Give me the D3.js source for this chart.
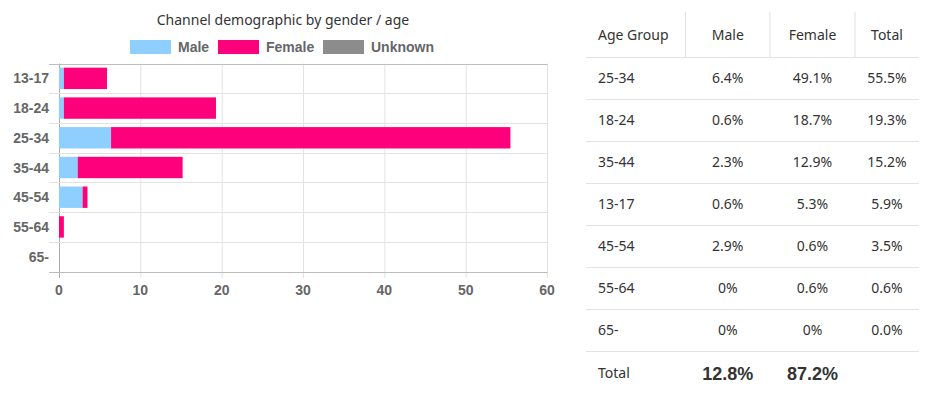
<!DOCTYPE html>
<html>
<head>
<meta charset="utf-8">
<script src="https://cdn.jsdelivr.net/npm/d3@7"></script>
<style>
  body { margin: 0; background: #fff; }
  svg { display: block; }
</style>
</head>
<body>
<svg width="930" height="398"></svg>
<script>
// chart data
var ageGroups = ["13-17", "18-24", "25-34", "35-44", "45-54", "55-64", "65-"];
var seriesNames = ["Male", "Female", "Unknown"];
var male = [0.6, 0.6, 6.4, 2.3, 2.9, 0, 0];
var female = [5.3, 18.7, 49.1, 12.9, 0.6, 0.6, 0];
var unknown = [0, 0, 0, 0, 0, 0, 0];
var xTicks = [0, 10, 20, 30, 40, 50, 60];

// table data (sorted by total)
var tableHeader = ["Age Group", "Male", "Female", "Total"];
var tableAges = ["25-34", "18-24", "35-44", "13-17", "45-54", "55-64", "65-"];
var tableMale = ["6.4%", "0.6%", "2.3%", "0.6%", "2.9%", "0%", "0%"];
var tableFemale = ["49.1%", "18.7%", "12.9%", "5.3%", "0.6%", "0.6%", "0%"];
var tableTotal = ["55.5%", "19.3%", "15.2%", "5.9%", "3.5%", "0.6%", "0.0%"];
var totalRow = ["Total", "12.8%", "87.2%", ""];

var colors = ["#8ecfff", "#ff007c", "#8c8c8c"];
var roundFont = "'Noto Sans', sans-serif";
var boldFont = "'Liberation Sans', Arial, sans-serif";

var svg = d3.select("svg");

// ---- bar chart ----
var x = d3.scaleLinear().domain([0, 60]).range([59, 547]);
var y = d3.scaleBand().domain(ageGroups).range([63.5, 271.5])
    .paddingInner(0.28).paddingOuter(0.14);
var step = y.step();

var rows = ageGroups.map(function (g, i) {
    return {age: g, Male: male[i], Female: female[i], Unknown: unknown[i]};
});
var stacked = d3.stack().keys(seriesNames)(rows);

// title
svg.append("text")
    .attr("x", 283).attr("y", 25)
    .attr("text-anchor", "middle")
    .style("font-family", roundFont).style("font-size", "14px")
    .style("fill", "#333")
    .text("Channel demographic by gender / age");

// legend
var legendX = [130, 218, 323];
var legend = svg.selectAll(".legend").data(seriesNames).enter().append("g")
    .attr("transform", function (d, i) { return "translate(" + legendX[i] + ",40)"; });
legend.append("rect")
    .attr("width", 41).attr("height", 14)
    .attr("fill", function (d, i) { return colors[i]; });
legend.append("text")
    .attr("x", 48).attr("y", 12)
    .style("font-family", boldFont).style("font-size", "14px")
    .style("font-weight", "bold").style("fill", "#666")
    .text(function (d) { return d; });

var plot = svg.append("g");

// vertical grid
plot.selectAll(".vgrid").data(xTicks).enter().append("line")
    .attr("x1", function (d) { return x(d) + 0.5; })
    .attr("x2", function (d) { return x(d) + 0.5; })
    .attr("y1", 63.5).attr("y2", 278)
    .attr("stroke", function (d) { return d === 0 ? "#aaa" : "#e3e3e3"; });

// horizontal grid (row boundaries)
var hLines = d3.range(ageGroups.length + 1).map(function (i) { return 63.5 + i * step; });
plot.selectAll(".hgrid").data(hLines).enter().append("line")
    .attr("x1", 49).attr("x2", 547.5)
    .attr("y1", function (d) { return Math.round(d) + 0.5; })
    .attr("y2", function (d) { return Math.round(d) + 0.5; })
    .attr("stroke", function (d, i) { return (i === 0 || i === hLines.length - 1) ? "#bdbdbd" : "#e3e3e3"; });

// bars
plot.selectAll(".series").data(stacked).enter().append("g")
    .attr("fill", function (d, i) { return colors[i]; })
    .selectAll("rect").data(function (d) { return d; }).enter().append("rect")
    .attr("x", function (d) { return x(d[0]); })
    .attr("width", function (d) { return x(d[1]) - x(d[0]); })
    .attr("y", function (d) { return y(d.data.age); })
    .attr("height", y.bandwidth());

// y labels
plot.selectAll(".ylab").data(ageGroups).enter().append("text")
    .attr("x", 49).attr("y", function (d) { return y(d) + y.bandwidth() / 2 + 5; })
    .attr("text-anchor", "end")
    .style("font-family", boldFont).style("font-size", "14px")
    .style("font-weight", "bold").style("fill", "#666")
    .text(function (d) { return d; });

// x labels
plot.selectAll(".xlab").data(xTicks).enter().append("text")
    .attr("x", function (d) { return x(d); }).attr("y", 295)
    .attr("text-anchor", "middle")
    .style("font-family", boldFont).style("font-size", "14px")
    .style("font-weight", "bold").style("fill", "#666")
    .text(function (d) { return d; });

// ---- table ----
var colEdges = [586, 685.5, 770, 855, 919];
var tRowsY = d3.scaleBand().domain(d3.range(8)).range([57, 393]);
var table = svg.append("g");

// header separators
table.selectAll(".sep").data(colEdges.slice(1, 4)).enter().append("line")
    .attr("x1", function (d) { return d; }).attr("x2", function (d) { return d; })
    .attr("y1", 12).attr("y2", 57)
    .attr("stroke", "#e0e0e0");

// row lines
table.selectAll(".rline").data(d3.range(8)).enter().append("line")
    .attr("x1", colEdges[0]).attr("x2", colEdges[4])
    .attr("y1", function (d) { return Math.round(tRowsY(d)) + 0.5; })
    .attr("y2", function (d) { return Math.round(tRowsY(d)) + 0.5; })
    .attr("stroke", "#e3e3e3");

function colX(c) {
    return c === 0 ? colEdges[0] + 12 : (colEdges[c] + colEdges[c + 1]) / 2;
}

function cellText(row, cells, cy) {
    table.selectAll(null).data(cells).enter().append("text")
        .attr("x", function (d, c) { return colX(c); })
        .attr("y", cy + 5)
        .attr("text-anchor", function (d, c) { return c === 0 ? "start" : "middle"; })
        .style("font-family", roundFont).style("font-size", "14px")
        .style("fill", "#333")
        .text(function (d) { return d; });
}

cellText(-1, tableHeader, 34.5);
tableAges.forEach(function (a, i) {
    cellText(i, [a, tableMale[i], tableFemale[i], tableTotal[i]], tRowsY(i) + tRowsY.bandwidth() / 2);
});

// total row
var totalY = tRowsY(7) + tRowsY.bandwidth() / 2 + 2;
table.selectAll(".tot").data(totalRow).enter().append("text")
    .attr("x", function (d, c) { return colX(c); })
    .attr("y", function (d, c) { return c === 0 ? totalY + 4 : totalY + 6; })
    .attr("text-anchor", function (d, c) { return c === 0 ? "start" : "middle"; })
    .style("font-family", function (d, c) { return c === 0 ? roundFont : boldFont; })
    .style("font-size", function (d, c) { return c === 0 ? "14px" : "18px"; })
    .style("font-weight", function (d, c) { return c === 0 ? "normal" : "bold"; })
    .style("fill", "#333")
    .text(function (d) { return d; });
</script>
</body>
</html>
